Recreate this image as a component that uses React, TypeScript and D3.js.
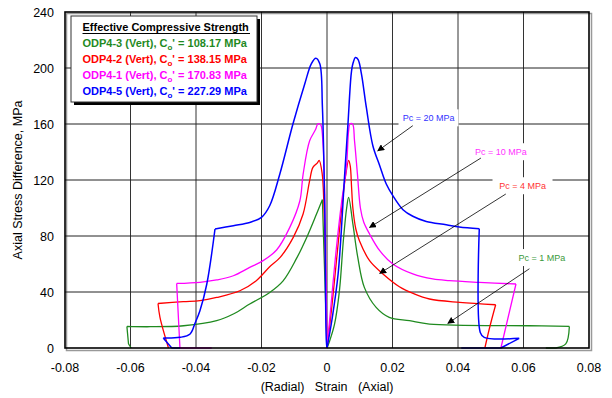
import React from "react";
import * as d3 from "d3";

type Pt = [number, number];

// ---- data (strain, axial stress difference MPa) ----
const xTicks = [-0.08, -0.06, -0.04, -0.02, 0, 0.02, 0.04, 0.06, 0.08];
const yTicks = [0, 40, 80, 120, 160, 200, 240];

const seriesNames = ["Pc = 1 MPa", "Pc = 4 MPa", "Pc = 10 MPa", "Pc = 20 MPa"];
const seriesColors = ["#1f8a1f", "#ff0000", "#ff00ff", "#0000ff"];
const labelColors = ["#3a9a3a", "#ff3333", "#ff33ff", "#3333ff"];

const greenRadial: Pt[] = [[0,0],[-0.0005,38],[-0.001,75],[-0.0014,106],[-0.0032,95.7],[-0.0062,79],[-0.0093,64],[-0.0134,48],[-0.0175,39.7],[-0.0236,31.4],[-0.0286,24.3],[-0.0337,19.5],[-0.0438,15.9],[-0.054,15.2],[-0.0611,15.4],[-0.0606,2.9],[-0.0598,0]];
const greenAxial: Pt[] = [[0,0],[0.0008,5],[0.0023,17],[0.0038,41],[0.005,77],[0.006,100],[0.0066,107.6],[0.0079,88.6],[0.0094,64.7],[0.0114,43.3],[0.015,29],[0.019,21.9],[0.0252,19.5],[0.0313,17.1],[0.0618,15.9],[0.074,15.4],[0.0729,2.9],[0.0699,0],[0.0668,0]];

const redRadial: Pt[] = [[0,0],[-0.0004,50],[-0.0009,100],[-0.0015,125],[-0.0024,134],[-0.003,132],[-0.0043,129],[-0.0053,119.5],[-0.0073,95.7],[-0.0103,79],[-0.0143,64.7],[-0.0175,58],[-0.0216,48.1],[-0.0266,40.9],[-0.0337,36.1],[-0.0388,33.8],[-0.0439,33.1],[-0.0516,31.8],[-0.051,21.9],[-0.0484,0]];
const redAxial: Pt[] = [[0,0],[0.0015,30],[0.003,65],[0.0045,100],[0.0058,125],[0.0066,134],[0.0071,130],[0.0075,115],[0.0079,100],[0.0088,85],[0.0099,76.6],[0.013,62.4],[0.0171,52.9],[0.0221,43.8],[0.0265,38.8],[0.0313,35],[0.0405,32.6],[0.0515,30.9],[0.0497,15],[0.0482,0]];

const magentaRadial: Pt[] = [[0,0],[-0.0003,50],[-0.0007,110],[-0.0012,145],[-0.0018,159],[-0.0022,160],[-0.0028,160],[-0.0035,156],[-0.0053,148],[-0.0073,124],[-0.0083,105],[-0.0114,86],[-0.0154,70],[-0.0195,62.4],[-0.0236,57.6],[-0.0286,51.6],[-0.0337,48.6],[-0.0388,46.9],[-0.0459,46.1],[-0.0449,0],[-0.0352,0]];
const magentaAxial: Pt[] = [[0,0],[0.0012,30],[0.0028,70],[0.0045,105],[0.0059,128],[0.0066,155],[0.007,160],[0.0078,160],[0.0084,148],[0.0093,124],[0.0102,100],[0.0112,90],[0.013,81.4],[0.0161,69.5],[0.0201,60],[0.0262,52.9],[0.0323,49.3],[0.0374,48.1],[0.0465,46.9],[0.0577,45.7],[0.0531,0]];

const blueRadial: Pt[] = [[0,0],[-0.0002,5],[-0.0007,100],[-0.0014,172],[-0.0022,203],[-0.0034,207],[-0.0048,203],[-0.0068,188.6],[-0.0104,160],[-0.0144,124.3],[-0.0175,101.6],[-0.02,93.3],[-0.0236,89.7],[-0.0286,87.4],[-0.0342,85],[-0.0367,45.7],[-0.0388,26.6],[-0.0403,17.7],[-0.0418,10],[-0.0449,7.6],[-0.05,7.1],[-0.0474,0],[-0.0449,0]];
const blueAxial: Pt[] = [[0,0],[0.0015,20],[0.0034,53],[0.0054,124],[0.0064,160],[0.0074,196],[0.0079,203],[0.0087,207.5],[0.0095,206],[0.0105,196],[0.012,172],[0.014,144.5],[0.0161,130.2],[0.0181,117.1],[0.0201,108.8],[0.0232,98.8],[0.0262,94.1],[0.0303,90.4],[0.0364,88.1],[0.0404,86.4],[0.0465,85.2],[0.0468,11.1],[0.048,7.6],[0.0587,6.9],[0.0531,0],[0.041,0]];

// indices of sharp corners (curve is smoothed only between corners)
const greenRadialCorners = [3, 14, 15];
const greenAxialCorners = [15, 17];
const redRadialCorners = [17];
const redAxialCorners = [17];
const magentaRadialCorners = [18, 19];
const magentaAxialCorners = [19];
const blueRadialCorners = [14, 20, 21];
const blueAxialCorners = [20, 23, 24];

const seriesData: Pt[][][] = [
  [greenRadial, greenAxial],
  [redRadial, redAxial],
  [magentaRadial, magentaAxial],
  [blueRadial, blueAxial],
];
const seriesCorners: number[][][] = [
  [greenRadialCorners, greenAxialCorners],
  [redRadialCorners, redAxialCorners],
  [magentaRadialCorners, magentaAxialCorners],
  [blueRadialCorners, blueAxialCorners],
];

// annotation: label position, arrow start, arrow end (data coords)
const labelPos: Pt[] = [[0.0656, 64.6], [0.0597, 115.9], [0.0531, 140.2], [0.031, 164.4]];
const arrowFrom: Pt[] = [[0.0618, 56.6], [0.0546, 110], [0.047, 135.7], [0.0262, 158.8]];
const arrowTo: Pt[] = [[0.0369, 17.6], [0.0161, 53.3], [0.013, 86.1], [0.0155, 140.8]];

const legendTitle = "Effective Compressive Strength";
const legendNames = ["ODP4-3 (Vert), C", "ODP4-2 (Vert), C", "ODP4-1 (Vert), C", "ODP4-5 (Vert), C"];
const legendValues = ["108.17", "138.15", "170.83", "227.29"];

const xTitle = "(Radial)   Strain   (Axial)";
const yTitle = "Axial Stress Difference, MPa";

const W = 612, H = 398;
const L = 65, R = 589, T = 12, B = 348;

function splitAt(pts: Pt[], corners: number[]): Pt[][] {
  const out: Pt[][] = [];
  let start = 0;
  const cs = [...corners].sort((a, b) => a - b);
  for (const c of cs) {
    out.push(pts.slice(start, c + 1));
    start = c;
  }
  out.push(pts.slice(start));
  return out.filter(p => p.length > 1);
}

export default function App() {
  const x = d3.scaleLinear().domain([-0.08, 0.08]).range([L, R]);
  const y = d3.scaleLinear().domain([0, 240]).range([B, T]);
  const line = d3.line<Pt>().x(d => x(d[0])).y(d => y(d[1])).curve(d3.curveCatmullRom.alpha(0.5));
  const font = "'Liberation Sans', Arial, sans-serif";

  const pathFor = (pts: Pt[], corners: number[]) =>
    splitAt(pts, corners).map(seg => line(seg) || "").join(" ");

  return (
    <svg width={W} height={H} style={{ position: "absolute", left: 0, top: 0, background: "#fff" }} fontFamily={font}>
      <defs>
        <marker id="ah" viewBox="0 0 10 10" refX="9" refY="5" markerWidth="7" markerHeight="7" orient="auto" markerUnits="userSpaceOnUse">
          <path d="M0,0 L10,5 L0,10 z" fill="#000" />
        </marker>
      </defs>
      <rect x={0} y={0} width={W} height={H} fill="#fff" />
      {/* frame shadow */}
      <rect x={L + 1.5} y={T + 1.5} width={R - L + 1} height={B - T + 1} fill="none" stroke="#999" strokeWidth={1.5} />
      {/* gridlines */}
      {xTicks.slice(1, -1).map(t => (
        <line key={"gx" + t} x1={x(t)} x2={x(t)} y1={T} y2={B} stroke="#333" strokeWidth={1} />
      ))}
      {yTicks.slice(1, -1).map(t => (
        <line key={"gy" + t} x1={L} x2={R} y1={y(t)} y2={y(t)} stroke="#222" strokeWidth={1} />
      ))}
      {/* curves */}
      {seriesData.map((parts, i) =>
        parts.map((p, j) => (
          <path key={"s" + i + "_" + j} d={pathFor(p, seriesCorners[i][j])} fill="none" stroke={seriesColors[i]} strokeWidth={i === 3 ? 1.5 : 1.3} strokeLinejoin="round" />
        ))
      )}
      {/* frame */}
      <rect x={L} y={T} width={R - L} height={B - T} fill="none" stroke="#000" strokeWidth={1.6} />
      {/* annotations */}
      {seriesNames.map((n, i) => (
        <g key={"a" + i}>
          <rect x={x(labelPos[i][0]) - 30} y={y(labelPos[i][1]) - 8.5} width={60} height={17} fill="#fff" />
          <text x={x(labelPos[i][0])} y={y(labelPos[i][1]) + 3} textAnchor="middle" fontSize={9} fill={labelColors[i]}>{n}</text>
          <line x1={x(arrowFrom[i][0])} y1={y(arrowFrom[i][1])} x2={x(arrowTo[i][0])} y2={y(arrowTo[i][1])} stroke="#000" strokeWidth={0.8} markerEnd="url(#ah)" />
        </g>
      ))}
      {/* legend */}
      <rect x={74} y={19} width={186} height={86} fill="#000" />
      <rect x={71} y={16} width={186} height={86} fill="#fff" stroke="#333" strokeWidth={1} />
      <text x={82.5} y={31} fontSize={11} fontWeight="bold" fill="#000">{legendTitle}</text>
      <line x1={82.5} x2={250} y1={33.5} y2={33.5} stroke="#000" strokeWidth={1} />
      {legendNames.map((n, i) => (
        <text key={"l" + i} x={82.5} y={47 + i * 16} fontSize={11} fontWeight="bold" fill={seriesColors[i]}>
          <tspan>{n}</tspan>
          <tspan dy={3} fontSize={8}>o</tspan>
          <tspan dy={-3}>{"' = " + legendValues[i] + " MPa"}</tspan>
        </text>
      ))}
      {/* axes labels */}
      {yTicks.map(t => (
        <text key={"yl" + t} x={54} y={y(t) + 4.5} textAnchor="end" fontSize={12.5} fill="#000">{String(t)}</text>
      ))}
      {xTicks.map(t => (
        <text key={"xl" + t} x={x(t)} y={372} textAnchor="middle" fontSize={12.5} fill="#000">{String(t)}</text>
      ))}
      <text x={x(0)} y={391} textAnchor="middle" fontSize={12.5} fill="#000" style={{ whiteSpace: "pre" }} xmlSpace="preserve">{xTitle}</text>
      <text transform={`translate(22,${(T + B) / 2}) rotate(-90)`} textAnchor="middle" fontSize={12.5} fill="#000">{yTitle}</text>
    </svg>
  );
}
